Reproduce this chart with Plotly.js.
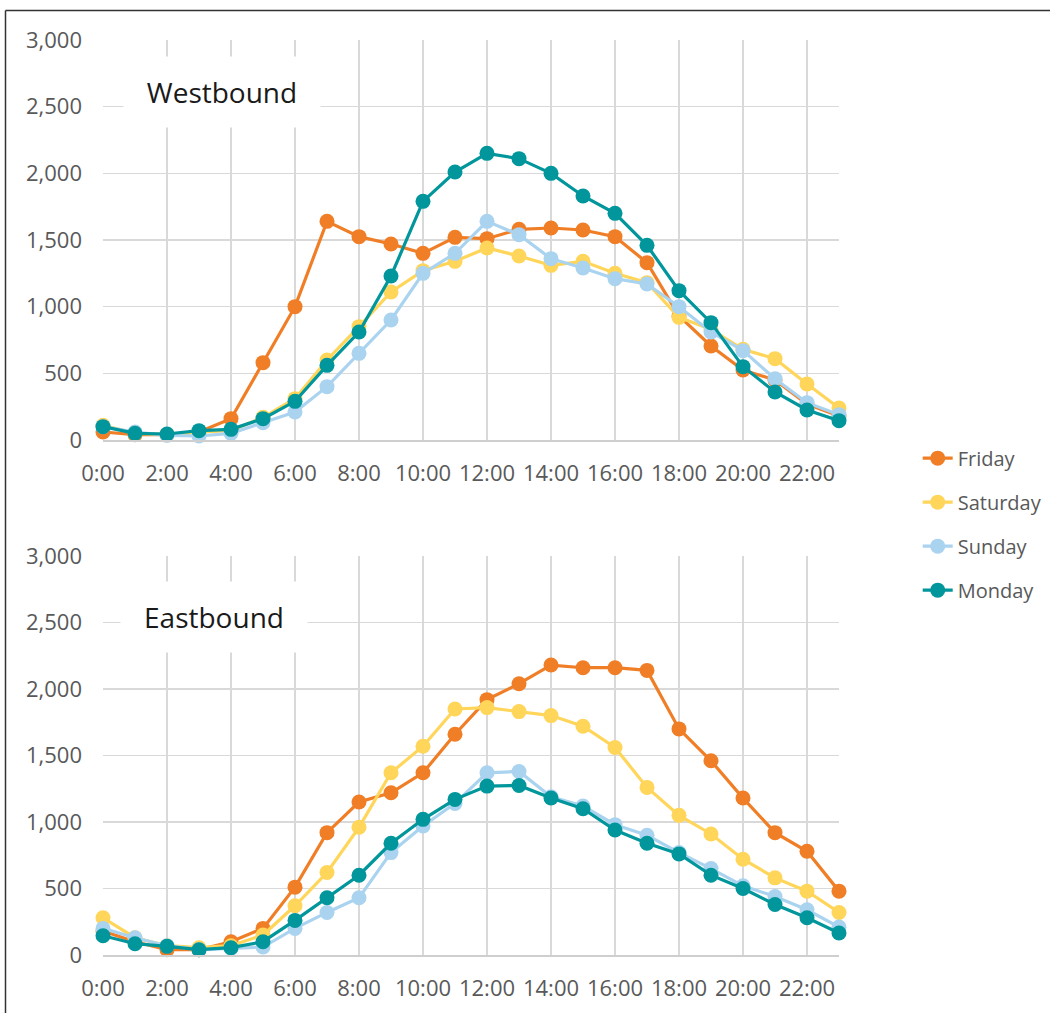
<!DOCTYPE html>
<html>
<head>
<meta charset="utf-8">
<script src="https://cdn.plot.ly/plotly-3.0.1.min.js"></script>
<style>html,body{margin:0;padding:0;background:#fff}#chart{width:1050px;height:1013px}</style>
</head>
<body>
<div id="chart"></div>
<script>
const hours = [0,1,2,3,4,5,6,7,8,9,10,11,12,13,14,15,16,17,18,19,20,21,22,23];
const tickVals = [0,2,4,6,8,10,12,14,16,18,20,22];
const tickText = ["0:00","2:00","4:00","6:00","8:00","10:00","12:00","14:00","16:00","18:00","20:00","22:00"];
const days = ["Friday","Saturday","Sunday","Monday"];
const dayColors = ["#F07E26","#FFD55A","#AAD3F0","#00969B"];

// Westbound
const westFriday   = [60,40,40,60,160,580,1000,1640,1525,1470,1400,1520,1510,1580,1590,1575,1525,1330,930,705,525,450,270,180];
const westSaturday = [110,50,40,60,70,170,310,600,850,1110,1270,1340,1440,1380,1310,1340,1250,1180,920,830,680,610,420,240];
const westSunday   = [100,60,35,30,50,130,210,400,650,900,1250,1400,1640,1540,1360,1290,1210,1170,1000,810,670,460,280,190];
const westMonday   = [100,50,45,70,80,160,290,560,810,1230,1790,2010,2150,2110,2000,1830,1700,1460,1120,880,550,360,225,145];

// Eastbound
const eastFriday   = [180,100,40,40,100,200,510,920,1150,1220,1370,1660,1920,2040,2180,2160,2160,2140,1700,1460,1180,920,780,480];
const eastSaturday = [280,130,70,55,70,150,370,620,960,1370,1570,1850,1860,1830,1800,1720,1560,1260,1050,910,720,580,480,320];
const eastSunday   = [200,130,70,40,50,60,200,320,430,770,970,1140,1370,1380,1190,1120,980,900,770,650,520,440,340,210];
const eastMonday   = [145,85,65,40,55,100,260,430,600,840,1020,1170,1270,1275,1180,1100,940,840,760,600,500,380,280,165];

const westSeries = [westFriday, westSaturday, westSunday, westMonday];
const eastSeries = [eastFriday, eastSaturday, eastSunday, eastMonday];

const traces = [];
days.forEach((d, i) => {
  traces.push({
    x: hours, y: westSeries[i], name: d, type: 'scatter', mode: 'lines+markers',
    xaxis: 'x', yaxis: 'y', legendgroup: d, showlegend: true, cliponaxis: false,
    line: {color: dayColors[i], width: 3.2}, marker: {color: dayColors[i], size: 15}
  });
});
days.forEach((d, i) => {
  traces.push({
    x: hours, y: eastSeries[i], name: d, type: 'scatter', mode: 'lines+markers',
    xaxis: 'x2', yaxis: 'y2', legendgroup: d, showlegend: false, cliponaxis: false,
    line: {color: dayColors[i], width: 3.2}, marker: {color: dayColors[i], size: 15}
  });
});

const fontFam = '"Open Sans", "DejaVu Sans", sans-serif';
const gridC = '#d9d9d9';
function xAx(anchor) {
  return {
    domain: [103/1050, 839/1050], range: [0, 23], anchor: anchor,
    tickmode: 'array', tickvals: tickVals, ticktext: tickText,
    showgrid: true, gridcolor: gridC, gridwidth: 1.5,
    showline: true, linecolor: '#cfcfcf', linewidth: 1.5,
    zeroline: false, ticks: '', ticklabelstandoff: 13,
    tickfont: {family: fontFam, size: 22, color: '#595959'}
  };
}
function yAx(anchor, dom) {
  return {
    domain: dom, range: [0, 3000], anchor: anchor,
    tickmode: 'linear', tick0: 0, dtick: 500, tickformat: ',d',
    showgrid: true, gridcolor: gridC, gridwidth: 1.5,
    zeroline: false, showline: false, ticks: '', ticklabelstandoff: 20,
    tickfont: {family: fontFam, size: 22, color: '#595959'}
  };
}

const layout = {
  width: 1050, height: 1013,
  margin: {l: 0, r: 0, t: 0, b: 0},
  paper_bgcolor: '#fff', plot_bgcolor: '#fff',
  font: {family: fontFam},
  showlegend: true,
  legend: {
    x: 0.874, y: 0.567, xanchor: 'left', yanchor: 'top',
    traceorder: 'grouped', tracegroupgap: 15,
    font: {family: fontFam, size: 20, color: '#595959'},
    bgcolor: 'rgba(0,0,0,0)'
  },
  xaxis: xAx('y'),
  yaxis: yAx('x', [1 - 440/1013, 1 - 40/1013]),
  xaxis2: xAx('y2'),
  yaxis2: yAx('x2', [1 - 955/1013, 1 - 556/1013]),
  annotations: [
    {text: 'Westbound', xref: 'x', yref: 'y', x: 3.73, y: 2610, showarrow: false,
     bgcolor: '#ffffff', width: 160, height: 34, borderpad: 18,
     font: {family: fontFam, size: 28, color: '#1a1a1a'}},
    {text: 'Eastbound', xref: 'x2', yref: 'y2', x: 3.48, y: 2540, showarrow: false,
     bgcolor: '#ffffff', width: 150, height: 34, borderpad: 18,
     font: {family: fontFam, size: 28, color: '#1a1a1a'}}
  ],
  shapes: [
    {type: 'line', xref: 'paper', yref: 'paper', x0: 5.5/1050, x1: 1, y0: 1 - 10.5/1013, y1: 1 - 10.5/1013,
     line: {color: '#333', width: 1.5}},
    {type: 'line', xref: 'paper', yref: 'paper', x0: 5.5/1050, x1: 5.5/1050, y0: 0, y1: 1 - 10.5/1013,
     line: {color: '#333', width: 1.5}}
  ]
};

Plotly.newPlot('chart', traces, layout, {displayModeBar: false, staticPlot: true});
</script>
</body>
</html>
